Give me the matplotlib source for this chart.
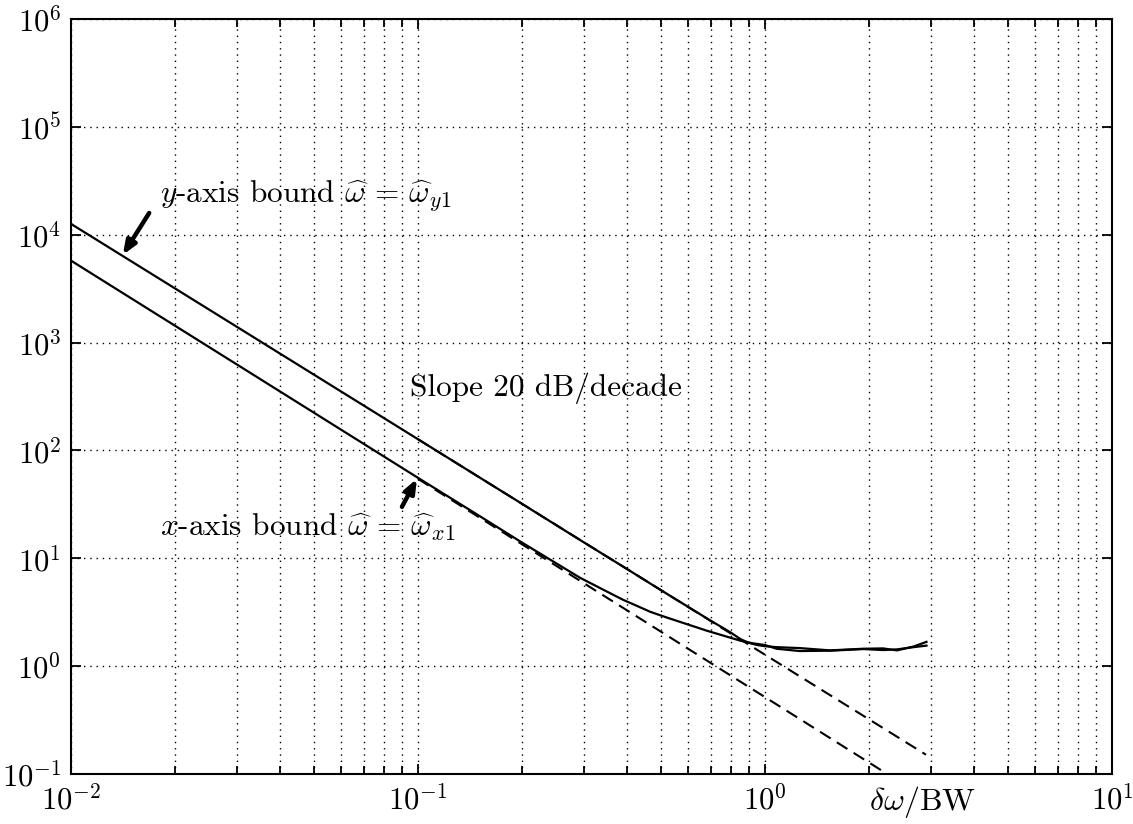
import matplotlib
matplotlib.use("Agg")
import matplotlib.pyplot as plt
from matplotlib.ticker import FixedLocator, NullLocator, LogLocator, NullFormatter

plt.rcParams['mathtext.fontset'] = 'cm'
plt.rcParams['font.family'] = 'cmr10'
plt.rcParams['axes.formatter.use_mathtext'] = True
plt.rcParams['axes.unicode_minus'] = False

# ---- data ----
# y-axis bound (upper solid curve)
x_ybound = [0.01, 0.1, 0.2, 0.3, 0.4, 0.5, 0.6, 0.7, 0.75, 0.8, 0.85, 0.9, 0.95, 1.0,
            1.08, 1.26, 1.54, 1.92, 2.19, 2.40, 2.68, 2.92]
y_ybound = [1.26e4, 127, 31.8, 14.1, 7.96, 5.09, 3.55, 2.62, 2.30, 2.03, 1.78, 1.64, 1.57, 1.53,
            1.50, 1.47, 1.40, 1.45, 1.46, 1.40, 1.52, 1.68]
# x-axis bound (lower solid curve)
x_xbound = [0.01, 0.1, 0.15, 0.2, 0.25, 0.293, 0.34, 0.39, 0.43, 0.467, 0.52, 0.58, 0.63,
            0.68, 0.75, 0.85, 0.92, 1.0, 1.08, 1.26, 1.54, 1.92, 2.19, 2.40, 2.68, 2.92]
y_xbound = [5.75e3, 55.7, 24.8, 13.9, 9.0, 6.6, 5.16, 4.12, 3.59, 3.19, 2.83, 2.52, 2.31,
            2.13, 1.94, 1.72, 1.63, 1.57, 1.45, 1.38, 1.39, 1.44, 1.41, 1.43, 1.50, 1.55]
# asymptotes (dashed)
x_asym_y = [0.1, 2.91]
y_asym_y = [127, 0.151]
x_asym_x = [0.1, 2.25]
y_asym_x = [54.5, 0.1]

x_ticks = [0.01, 0.1, 1, 10]
x_tick_labels = [r'$10^{-2}$', r'$10^{-1}$', r'$10^{0}$', r'$10^{1}$']
y_ticks = [1e-1, 1e0, 1e1, 1e2, 1e3, 1e4, 1e5, 1e6]
y_tick_labels = [r'$10^{-1}$', r'$10^{0}$', r'$10^{1}$', r'$10^{2}$',
                 r'$10^{3}$', r'$10^{4}$', r'$10^{5}$', r'$10^{6}$']

fig = plt.figure(figsize=(11.33, 8.24), dpi=100)
ax = fig.add_axes([71/1133, 1-774/824, (1112-71)/1133, (774-19)/824])
ax.set_xscale('log')
ax.set_yscale('log')
ax.set_xlim(0.01, 10)
ax.set_ylim(0.1, 1e6)

ax.plot(x_asym_y, y_asym_y, color='k', lw=1.5, ls=(0, (6, 3.5)))
ax.plot(x_asym_x, y_asym_x, color='k', lw=1.5, ls=(0, (6, 3.5)))
ax.plot(x_ybound, y_ybound, color='k', lw=1.6)
ax.plot(x_xbound, y_xbound, color='k', lw=1.6)

ax.xaxis.set_major_locator(FixedLocator(x_ticks))
ax.set_xticklabels(x_tick_labels)
ax.xaxis.set_minor_locator(LogLocator(base=10, subs=[2, 3, 4, 5, 6, 7, 8, 9]))
ax.xaxis.set_minor_formatter(NullFormatter())
ax.yaxis.set_major_locator(FixedLocator(y_ticks))
ax.set_yticklabels(y_tick_labels)
ax.yaxis.set_minor_locator(NullLocator())

ax.grid(True, which='both', axis='x', color='k', lw=1.0, ls=(0, (1, 3.5)))
ax.grid(True, which='major', axis='y', color='k', lw=1.0, ls=(0, (1, 3.5)))

ax.tick_params(which='both', direction='in', top=True, right=True, width=1.3)
ax.tick_params(which='major', length=7, labelsize=22)
ax.tick_params(which='minor', length=6)
ax.tick_params(axis='x', which='major', pad=7)
ax.tick_params(axis='y', which='major', pad=7)
for s in ax.spines.values():
    s.set_linewidth(1.5)

ax.text(0.018, 2.24e4, r'$y$-axis bound $\widehat{\omega}\,=\,\widehat{\omega}_{y1}$',
        fontsize=22.5, ha='left', va='center')
ax.text(0.018, 19.2, r'$x$-axis bound $\widehat{\omega}\,=\,\widehat{\omega}_{x1}$',
        fontsize=22.5, ha='left', va='center')
ax.text(0.0948, 380, 'Slope 20 dB/decade', fontsize=22.5, ha='left', va='center')

arrowprops = dict(arrowstyle='-|>,head_length=0.8,head_width=0.32', color='k', lw=3.2,
                  shrinkA=0, shrinkB=0)
ax.annotate('', xy=(0.0141, 6.5e3), xytext=(0.0168, 1.59e4), arrowprops=arrowprops)
ax.annotate('', xy=(0.0993, 54.6), xytext=(0.0899, 30), arrowprops=arrowprops)

ax.text(2.85, -0.037, r'$\delta\omega/\mathrm{BW}$', transform=ax.get_xaxis_transform(),
        fontsize=23, ha='center', va='center')

fig.savefig('out.png', dpi=100)
